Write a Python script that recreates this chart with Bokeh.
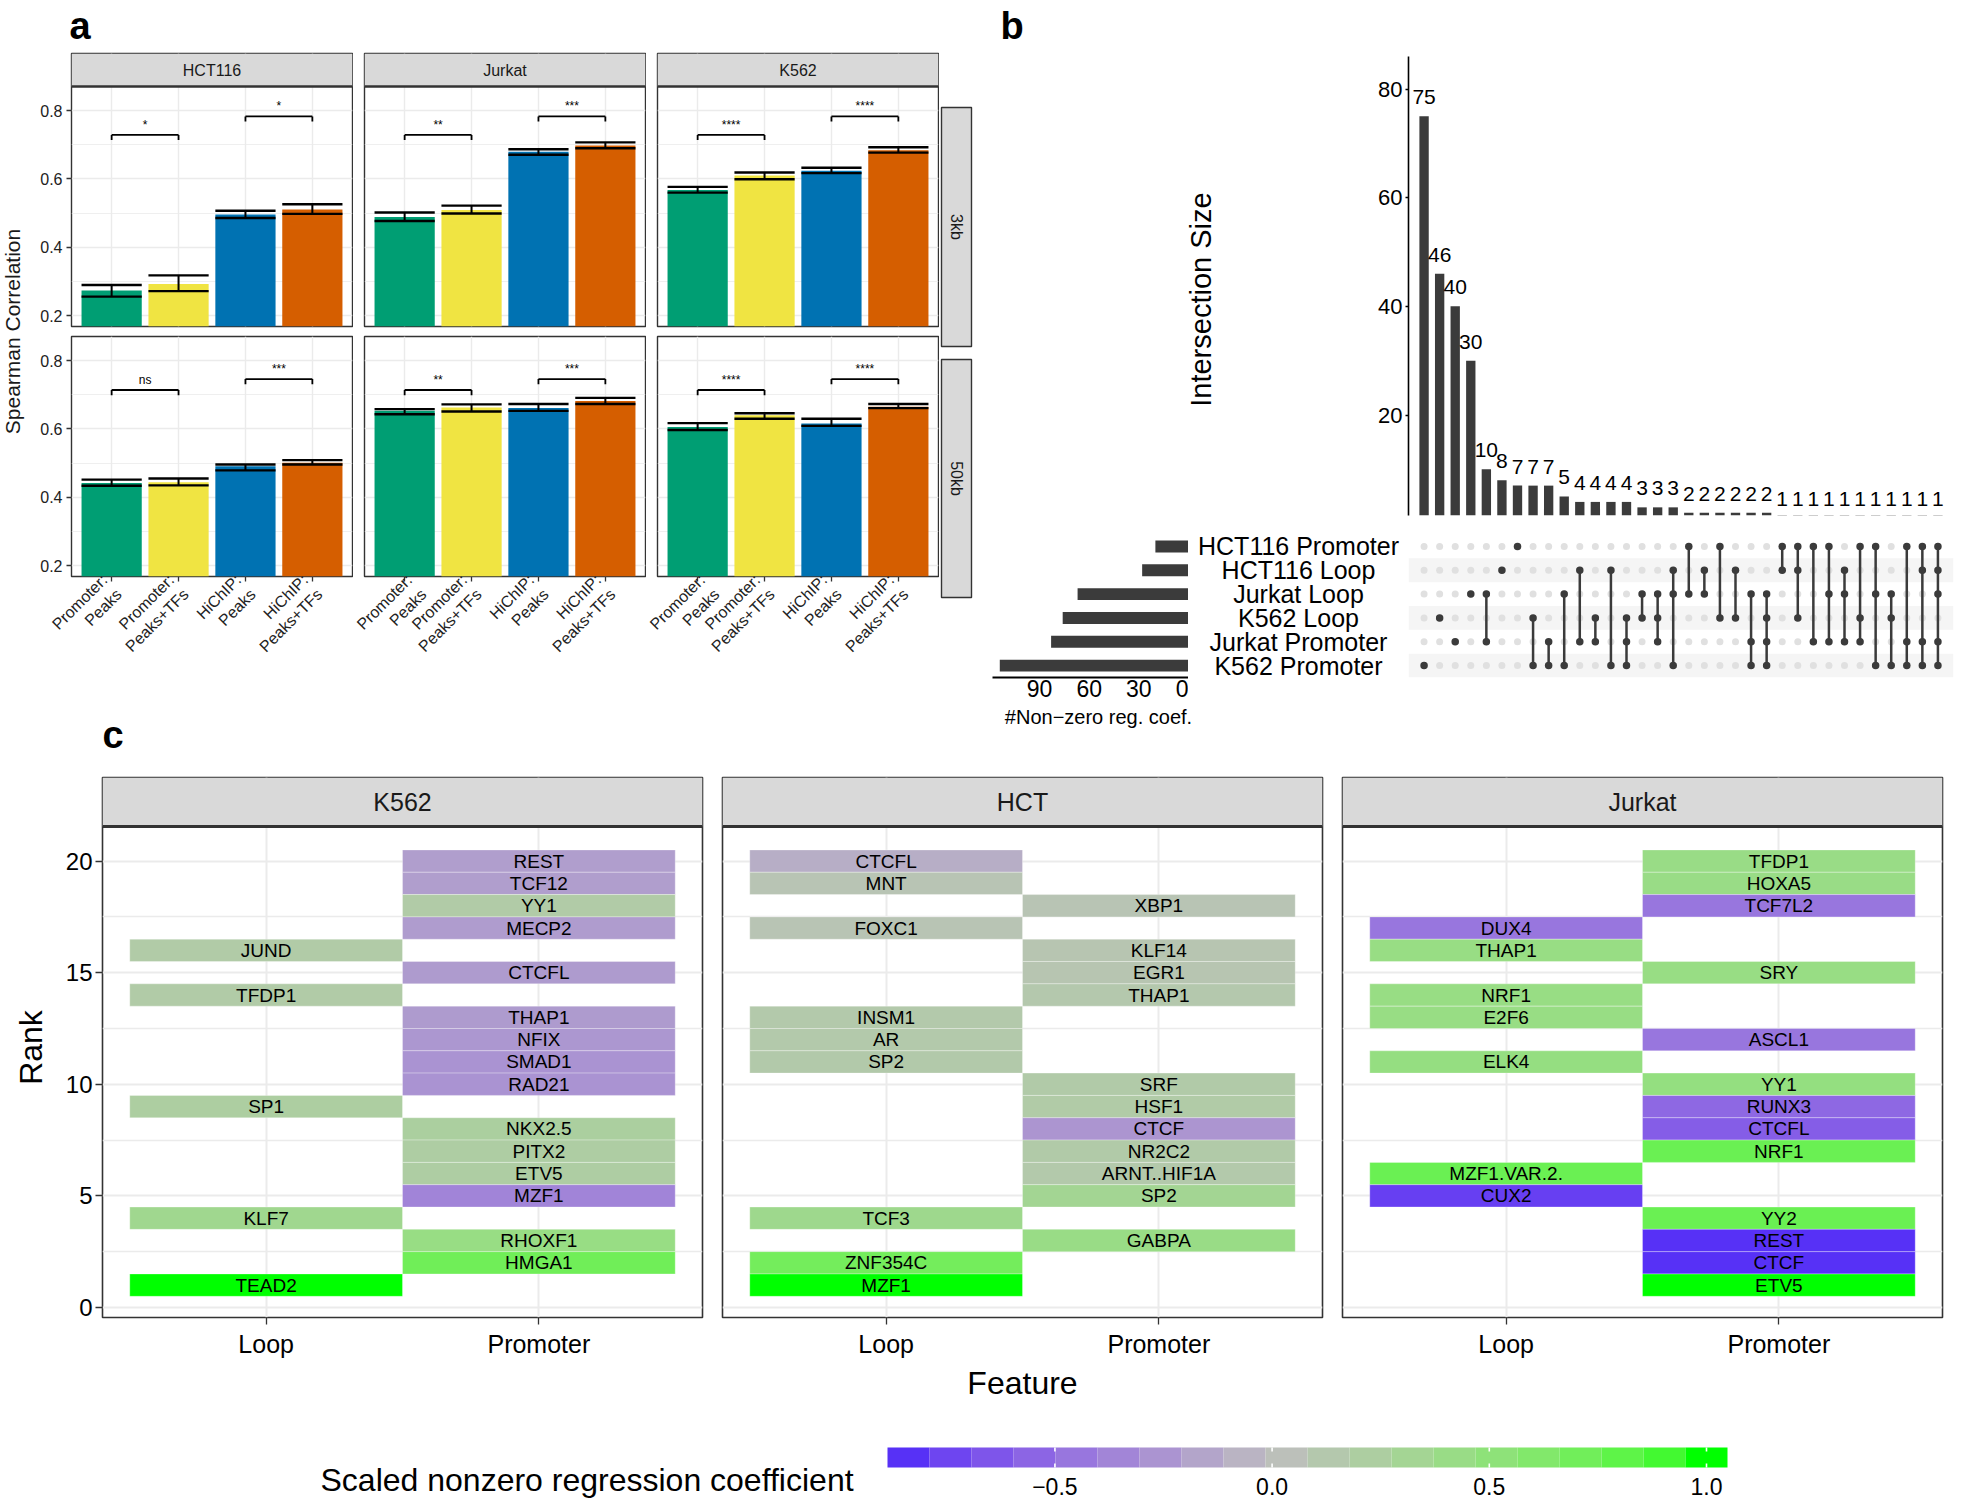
import math
from bokeh.plotting import figure
from bokeh.layouts import row, column
from bokeh.models import Range1d, FixedTicker, Label, LabelSet, ColumnDataSource, LinearColorMapper
from bokeh.core.properties import value
from bokeh.embed import file_html
from bokeh.resources import INLINE

FONT = "Liberation Sans"
DARK = "#333333"
STRIP_FILL = "#D9D9D9"
GRID = "#EBEBEB"
TXT = "#1A1A1A"

# ---------------- panel a data ----------------
cell_lines = ["HCT116", "Jurkat", "K562"]
windows = ["3kb", "50kb"]
models = ["Promoter:\nPeaks", "Promoter:\nPeaks+TFs", "HiChIP:\nPeaks", "HiChIP:\nPeaks+TFs"]
model_colors = ["#009E73", "#F0E442", "#0072B2", "#D55E00"]

hct116_3kb_mean = [0.274, 0.293, 0.496, 0.511]
hct116_3kb_lo = [0.256, 0.272, 0.486, 0.498]
hct116_3kb_hi = [0.290, 0.318, 0.507, 0.526]
jurkat_3kb_mean = [0.489, 0.509, 0.680, 0.698]
jurkat_3kb_lo = [0.477, 0.499, 0.671, 0.690]
jurkat_3kb_hi = [0.502, 0.522, 0.687, 0.707]
k562_3kb_mean = [0.568, 0.610, 0.624, 0.684]
k562_3kb_lo = [0.560, 0.599, 0.617, 0.677]
k562_3kb_hi = [0.577, 0.619, 0.633, 0.693]
hct116_50kb_mean = [0.442, 0.444, 0.491, 0.501]
hct116_50kb_lo = [0.434, 0.435, 0.479, 0.496]
hct116_50kb_hi = [0.452, 0.455, 0.496, 0.509]
jurkat_50kb_mean = [0.653, 0.663, 0.661, 0.682]
jurkat_50kb_lo = [0.643, 0.651, 0.653, 0.673]
jurkat_50kb_hi = [0.658, 0.672, 0.673, 0.691]
k562_50kb_mean = [0.606, 0.640, 0.616, 0.665]
k562_50kb_lo = [0.597, 0.630, 0.609, 0.661]
k562_50kb_hi = [0.617, 0.646, 0.630, 0.673]

sig_pairs = [(1, 2), (3, 4)]
sig_3kb_first = ["*", "**", "****"]
sig_3kb_second = ["*", "***", "****"]
sig_50kb_first = ["ns", "**", "****"]
sig_50kb_second = ["***", "***", "****"]
bracket_y_3kb = [0.729, 0.783]
bracket_y_50kb = [0.714, 0.746]
a_yticks = [0.2, 0.4, 0.6, 0.8]
a_minor = [0.3, 0.5, 0.7]

# ---------------- panel b data ----------------
set_names = ["HCT116 Promoter", "HCT116 Loop", "Jurkat Loop", "K562 Loop", "Jurkat Promoter", "K562 Promoter"]
set_sizes = [20, 28, 67, 76, 83, 114]
intersection_sizes = [75, 46, 40, 30, 10, 8, 7, 7, 7, 5, 4, 4, 4, 4, 3, 3, 3,
                      2, 2, 2, 2, 2, 2, 1, 1, 1, 1, 1, 1, 1, 1, 1, 1, 1]
intersection_members = [
    "K562 Promoter", "K562 Loop", "Jurkat Promoter", "Jurkat Loop",
    "Jurkat Loop&Jurkat Promoter", "HCT116 Loop", "HCT116 Promoter",
    "K562 Loop&K562 Promoter", "Jurkat Promoter&K562 Promoter",
    "Jurkat Loop&K562 Promoter", "HCT116 Loop&Jurkat Promoter",
    "K562 Loop&Jurkat Promoter", "HCT116 Loop&K562 Promoter",
    "K562 Loop&Jurkat Promoter&K562 Promoter", "Jurkat Loop&K562 Loop",
    "Jurkat Loop&K562 Loop&Jurkat Promoter", "HCT116 Loop&Jurkat Loop&K562 Promoter",
    "HCT116 Promoter&Jurkat Loop", "HCT116 Loop&Jurkat Loop",
    "HCT116 Promoter&K562 Loop", "HCT116 Loop&K562 Loop",
    "Jurkat Loop&Jurkat Promoter&K562 Promoter",
    "Jurkat Loop&K562 Loop&Jurkat Promoter&K562 Promoter",
    "HCT116 Promoter&HCT116 Loop", "HCT116 Promoter&HCT116 Loop&K562 Loop",
    "HCT116 Promoter&Jurkat Promoter", "HCT116 Promoter&Jurkat Loop&Jurkat Promoter",
    "HCT116 Loop&Jurkat Loop&Jurkat Promoter", "HCT116 Promoter&K562 Loop&Jurkat Promoter",
    "HCT116 Promoter&Jurkat Loop&K562 Promoter", "Jurkat Loop&K562 Loop&K562 Promoter",
    "HCT116 Promoter&Jurkat Promoter&K562 Promoter",
    "HCT116 Promoter&HCT116 Loop&Jurkat Promoter&K562 Promoter",
    "HCT116 Promoter&HCT116 Loop&Jurkat Loop&Jurkat Promoter&K562 Promoter",
]
inter_yticks = [0, 20, 40, 60, 80]
setsize_ticks = [0, 30, 60, 90]

# ---------------- panel c data ----------------
features = ["Loop", "Promoter"]
k562_rank = [20, 19, 18, 17, 16, 15, 14, 13, 12, 11, 10, 9, 8, 7, 6, 5, 4, 3, 2, 1]
k562_feature = ["Promoter", "Promoter", "Promoter", "Promoter", "Loop", "Promoter", "Loop", "Promoter",
                "Promoter", "Promoter", "Promoter", "Loop", "Promoter", "Promoter", "Promoter", "Promoter",
                "Loop", "Promoter", "Promoter", "Loop"]
k562_tf = ["REST", "TCF12", "YY1", "MECP2", "JUND", "CTCFL", "TFDP1", "THAP1", "NFIX", "SMAD1", "RAD21",
           "SP1", "NKX2.5", "PITX2", "ETV5", "MZF1", "KLF7", "RHOXF1", "HMGA1", "TEAD2"]
k562_coef = [-0.20, -0.20, 0.18, -0.21, 0.18, -0.22, 0.18, -0.22, -0.24, -0.27, -0.27,
             0.23, 0.24, 0.21, 0.21, -0.36, 0.36, 0.44, 0.72, 1.00]

hct_rank = [20, 19, 18, 17, 16, 15, 14, 13, 12, 11, 10, 9, 8, 7, 6, 5, 4, 3, 2, 1]
hct_feature = ["Loop", "Loop", "Promoter", "Loop", "Promoter", "Promoter", "Promoter", "Loop", "Loop", "Loop",
               "Promoter", "Promoter", "Promoter", "Promoter", "Promoter", "Promoter", "Loop", "Promoter",
               "Loop", "Loop"]
hct_tf = ["CTCFL", "MNT", "XBP1", "FOXC1", "KLF14", "EGR1", "THAP1", "INSM1", "AR", "SP2", "SRF", "HSF1",
          "CTCF", "NR2C2", "ARNT..HIF1A", "SP2", "TCF3", "GABPA", "ZNF354C", "MZF1"]
hct_coef = [-0.10, 0.08, 0.08, 0.08, 0.10, 0.10, 0.13, 0.15, 0.15, 0.16, 0.17, 0.18,
            -0.25, 0.17, 0.15, 0.33, 0.38, 0.42, 0.70, 1.00]

jurkat_rank = [20, 19, 18, 17, 16, 15, 14, 13, 12, 11, 10, 9, 8, 7, 6, 5, 4, 3, 2, 1]
jurkat_feature = ["Promoter", "Promoter", "Promoter", "Loop", "Loop", "Promoter", "Loop", "Loop", "Promoter",
                  "Loop", "Promoter", "Promoter", "Promoter", "Promoter", "Loop", "Loop", "Promoter",
                  "Promoter", "Promoter", "Promoter"]
jurkat_tf = ["TFDP1", "HOXA5", "TCF7L2", "DUX4", "THAP1", "SRY", "NRF1", "E2F6", "ASCL1", "ELK4", "YY1",
             "RUNX3", "CTCFL", "NRF1", "MZF1.VAR.2.", "CUX2", "YY2", "REST", "CTCF", "ETV5"]
jurkat_coef = [0.42, 0.42, -0.45, -0.45, 0.44, 0.44, 0.44, 0.44, -0.45, 0.46, 0.47,
               -0.53, -0.60, 0.75, 0.75, -0.77, 0.75, -0.837, -0.837, 1.00]

c_panels = ["K562", "HCT", "Jurkat"]
rank_ticks = [0, 5, 10, 15, 20]
rank_minor = [2.5, 7.5, 12.5, 17.5]
legend_ticks = [-0.5, 0.0, 0.5, 1.0]
legend_tick_labels = ["\u22120.5", "0.0", "0.5", "1.0"]
legend_nbin = 20


# ---------------- helpers ----------------
GEOM = {}


def key(v):
    return int(v) if float(v).is_integer() else v


def make_fig(canvas, frame, xr, yr):
    cx0, cy0, cx1, cy1 = canvas
    fx0, fy0, fx1, fy1 = frame
    xrng = xr if isinstance(xr, Range1d) else Range1d(*xr)
    yrng = yr if isinstance(yr, Range1d) else Range1d(*yr)
    p = figure(width=cx1 - cx0, height=cy1 - cy0, x_range=xrng, y_range=yrng,
               output_backend="svg", toolbar_location=None,
               min_border_left=fx0 - cx0, min_border_right=cx1 - fx1,
               min_border_top=fy0 - cy0, min_border_bottom=cy1 - fy1)
    p.background_fill_color = "white"
    p.border_fill_color = "white"
    p.outline_line_color = None
    p.xgrid.visible = False
    p.ygrid.visible = False
    p.xaxis.visible = False
    p.yaxis.visible = False
    GEOM[id(p)] = (frame, (xrng.start, xrng.end), (yrng.start, yrng.end))
    return p


def text_fig(canvas):
    # a plain drawing area whose data coordinates are page pixels (y downward)
    cx0, cy0, cx1, cy1 = canvas
    return make_fig(canvas, canvas, (cx0, cx1), (cy1, cy0))


def px2x(p, px):
    frame, xr, _ = GEOM[id(p)]
    return xr[0] + (px - frame[0]) / (frame[2] - frame[0]) * (xr[1] - xr[0])


def px2y(p, py):
    frame, _, yr = GEOM[id(p)]
    return yr[0] + (frame[3] - py) / (frame[3] - frame[1]) * (yr[1] - yr[0])


def add_label(p, px, py, text, size, bold=False, angle=0.0, align="center", baseline="middle", color="black"):
    p.add_layout(Label(x=px2x(p, px), y=px2y(p, py), text=text, text_font=FONT,
                       text_font_size=f"{size}px", text_font_style="bold" if bold else "normal",
                       angle=angle, text_align=align, text_baseline=baseline, text_color=color))


def style_axis(ax, size, color="black", tick_out=4, standoff=4):
    ax.visible = True
    ax.axis_line_color = None
    ax.major_tick_line_color = DARK
    ax.major_tick_line_width = 1.3
    ax.major_tick_out = tick_out
    ax.major_tick_in = 0
    ax.minor_tick_line_color = None
    ax.major_label_text_font = FONT
    ax.major_label_text_font_size = f"{size}px"
    ax.major_label_text_color = color
    ax.major_label_standoff = standoff


# ---------------- palette (Lab interpolation low-mid-high) ----------------
WHITE = (0.95047, 1.0, 1.08883)


def _lin(c):
    c = c / 255.0
    return c / 12.92 if c <= 0.04045 else ((c + 0.055) / 1.055) ** 2.4


def _gam(c):
    c = min(max(c, 0.0), 1.0)
    v = 12.92 * c if c <= 0.0031308 else 1.055 * c ** (1 / 2.4) - 0.055
    return int(round(min(max(v, 0.0), 1.0) * 255))


def hex_to_lab(h):
    r, g, b = [_lin(int(h[i:i + 2], 16)) for i in (1, 3, 5)]
    X = 0.4124564 * r + 0.3575761 * g + 0.1804375 * b
    Y = 0.2126729 * r + 0.7151522 * g + 0.0721750 * b
    Z = 0.0193339 * r + 0.1191920 * g + 0.9503041 * b

    def f(t):
        return t ** (1 / 3) if t > 216 / 24389 else (24389 / 27 * t + 16) / 116
    fx, fy, fz = f(X / WHITE[0]), f(Y / WHITE[1]), f(Z / WHITE[2])
    return (116 * fy - 16, 500 * (fx - fy), 200 * (fy - fz))


def lab_to_hex(L, a, b):
    fy = (L + 16) / 116
    fx = fy + a / 500
    fz = fy - b / 200

    def finv(t):
        return t ** 3 if t ** 3 > 216 / 24389 else (116 * t - 16) / (24389 / 27)
    X, Y, Z = finv(fx) * WHITE[0], finv(fy) * WHITE[1], finv(fz) * WHITE[2]
    r = 3.2404542 * X - 1.5371385 * Y - 0.4985314 * Z
    g = -0.9692660 * X + 1.8760108 * Y + 0.0415560 * Z
    bb = 0.0556434 * X - 0.2040259 * Y + 1.0572252 * Z
    return "#%02X%02X%02X" % (_gam(r), _gam(g), _gam(bb))


LOW, MID, HIGH = "#0000FF", "#BEBEBE", "#00FF00"
_labs = [hex_to_lab(c) for c in (LOW, MID, HIGH)]
palette = []
_N = 255
for i in range(_N):
    t = -1 + 2 * i / (_N - 1)
    A, B, fr = (_labs[1], _labs[0], -t) if t < 0 else (_labs[1], _labs[2], t)
    palette.append(lab_to_hex(*[A[k] + (B[k] - A[k]) * fr for k in range(3)]))
mapper = LinearColorMapper(palette=palette, low=-1, high=1)

TOP_END = 708

# =====================================================================
# header with panel letters a / b
# =====================================================================
header1 = text_fig((0, 0, 1961, 51))
add_label(header1, 69, 25, "a", 38, bold=True, align="left")
add_label(header1, 1000, 25, "b", 38, bold=True, align="left")

# =====================================================================
# PANEL A
# =====================================================================
a_values = {
    ("HCT116", "3kb"): (hct116_3kb_mean, hct116_3kb_lo, hct116_3kb_hi),
    ("Jurkat", "3kb"): (jurkat_3kb_mean, jurkat_3kb_lo, jurkat_3kb_hi),
    ("K562", "3kb"): (k562_3kb_mean, k562_3kb_lo, k562_3kb_hi),
    ("HCT116", "50kb"): (hct116_50kb_mean, hct116_50kb_lo, hct116_50kb_hi),
    ("Jurkat", "50kb"): (jurkat_50kb_mean, jurkat_50kb_lo, jurkat_50kb_hi),
    ("K562", "50kb"): (k562_50kb_mean, k562_50kb_lo, k562_50kb_hi),
}
a_sig = {"3kb": (sig_3kb_first, sig_3kb_second), "50kb": (sig_50kb_first, sig_50kb_second)}
a_bracket = {"3kb": bracket_y_3kb, "50kb": bracket_y_50kb}

A_Y0, A_Y1 = 0.1685, 0.8705
A_XR = (0.4, 4.6)
A_STRIP = (A_Y1 - A_Y0) / 240 * 33
col_canvas_x = [(36, 353), (353, 646), (646, 939)]
col_frame_x = [(71, 352), (364, 645), (657, 938)]
row_canvas_y = [(51, 331), (331, TOP_END)]
row_frame_y = [(53, 326), (336, 576)]

a_rows = []
for ri, win in enumerate(windows):
    figs = []
    for ci, cell in enumerate(cell_lines):
        yr = (A_Y0, A_Y1 + A_STRIP) if ri == 0 else (A_Y0, A_Y1)
        canvas = (col_canvas_x[ci][0], row_canvas_y[ri][0], col_canvas_x[ci][1], row_canvas_y[ri][1])
        frame = (col_frame_x[ci][0], row_frame_y[ri][0], col_frame_x[ci][1], row_frame_y[ri][1])
        p = make_fig(canvas, frame, A_XR, yr)
        p.xgrid.visible = True
        p.ygrid.visible = True
        p.xgrid.ticker = FixedTicker(ticks=[1, 2, 3, 4])
        p.ygrid.ticker = FixedTicker(ticks=a_yticks, minor_ticks=a_minor)
        p.xgrid.grid_line_color = GRID
        p.xgrid.grid_line_width = 1.4
        p.ygrid.grid_line_color = GRID
        p.ygrid.grid_line_width = 1.4
        p.ygrid.minor_grid_line_color = GRID
        p.ygrid.minor_grid_line_width = 0.8
        p.outline_line_color = DARK
        p.outline_line_width = 1.4

        mean, lo, hi = a_values[(cell, win)]
        xs = list(range(1, len(models) + 1))
        src = ColumnDataSource(dict(x=xs, mean=mean, lo=lo, hi=hi, color=model_colors,
                                    left=[x - 0.45 for x in xs], right=[x + 0.45 for x in xs]))
        p.vbar(x="x", top="mean", bottom=A_Y0 - 0.1, width=0.9, fill_color="color", line_color=None, source=src)
        p.segment(x0="x", y0="lo", x1="x", y1="hi", line_color="black", line_width=2, source=src)
        p.segment(x0="left", y0="lo", x1="right", y1="lo", line_color="black", line_width=2.4, source=src)
        p.segment(x0="left", y0="hi", x1="right", y1="hi", line_color="black", line_width=2.4, source=src)

        sigs = a_sig[win]
        for k, (pa, pb) in enumerate(sig_pairs):
            by = a_bracket[win][k]
            tip = 0.015
            p.segment(x0=[pa, pa, pb], y0=[by, by, by], x1=[pb, pa, pb], y1=[by, by - tip, by - tip],
                      line_color="black", line_width=1.8)
            p.text(x=[(pa + pb) / 2], y=[by], text=[sigs[k][ci]], text_align="center",
                   text_baseline="bottom", y_offset=-3, text_font=value(FONT),
                   text_font_size="12px", text_color="black")

        if ri == 0:
            p.quad(left=[A_XR[0]], right=[A_XR[1]], bottom=[A_Y1], top=[A_Y1 + A_STRIP],
                   fill_color=STRIP_FILL, line_color=None)
            p.segment(x0=[A_XR[0]], y0=[A_Y1], x1=[A_XR[1]], y1=[A_Y1], line_color=DARK, line_width=2.4)
            p.text(x=[sum(A_XR) / 2], y=[A_Y1 + A_STRIP / 2], text=[cell], text_align="center",
                   text_baseline="middle", text_font=value(FONT), text_font_size="16px", text_color=TXT)
        if ci == 0:
            style_axis(p.yaxis[0], 16, color="#222222", tick_out=5, standoff=4)
            p.yaxis.ticker = FixedTicker(ticks=a_yticks)
            p.yaxis.major_label_overrides = {key(v): f"{v:.1f}" for v in a_yticks}
        if ri == 1:
            style_axis(p.xaxis[0], 16, color="#222222", tick_out=5, standoff=3)
            p.xaxis.ticker = FixedTicker(ticks=xs)
            p.xaxis.major_label_overrides = {x: m for x, m in zip(xs, models)}
            p.xaxis.major_label_orientation = math.pi / 4
        figs.append(p)
    a_rows.append(figs)

ylab_fig = text_fig((0, 51, 36, TOP_END))
add_label(ylab_fig, 12, 331, "Spearman Correlation", 21, angle=math.pi / 2, color=TXT)

rstrip_fig = text_fig((939, 51, 990, TOP_END))
rstrip_fig.quad(left=[941, 941], right=[971, 971], top=[107, 359], bottom=[346, 597],
                fill_color=STRIP_FILL, line_color=DARK, line_width=1.4)
rstrip_fig.text(x=[956, 956], y=[226.5, 478], text=windows, angle=-math.pi / 2, text_align="center",
                text_baseline="middle", text_font=value(FONT), text_font_size="16px", text_color=TXT)

a_block = column(row(*a_rows[0]), row(*a_rows[1]))

# =====================================================================
# PANEL B (UpSet)
# =====================================================================
n_int = len(intersection_sizes)
ux = Range1d(0, n_int + 1)
uy = Range1d(0.5, len(set_names) + 0.5)
set_pos = {name: len(set_names) - i for i, name in enumerate(set_names)}

inter_left = text_fig((990, 51, 1370, 525))
add_label(inter_left, 1200, 302, "Intersection Size", 29, angle=math.pi / 2, color="black")

inter_fig = make_fig((1370, 51, 1961, 525), (1408, 56, 1953, 515), ux, (1.5, 86))
cols = list(range(1, n_int + 1))
isrc = ColumnDataSource(dict(x=cols, top=intersection_sizes, label=[str(v) for v in intersection_sizes]))
inter_fig.vbar(x="x", top="top", bottom=0, width=0.6, fill_color="#3B3B3B", line_color=None, source=isrc)
inter_fig.add_layout(LabelSet(x="x", y="top", text="label", source=isrc, text_align="center",
                              text_baseline="alphabetic", y_offset=12, text_font=value(FONT),
                              text_font_size="21px", text_color="black"))
ya = inter_fig.yaxis[0]
style_axis(ya, 22, tick_out=3, standoff=3)
ya.axis_line_color = "black"
ya.axis_line_width = 1.6
ya.major_tick_line_color = "black"
ya.ticker = FixedTicker(ticks=inter_yticks)

M_FY0, M_FY1 = 534, 677
setsize_fig = make_fig((990, 525, 1188, TOP_END), (992, M_FY0, 1188, M_FY1), (118.4, 0), uy)
setsize_fig.hbar(y=[set_pos[n] for n in set_names], right=set_sizes, left=0, height=0.5,
                 fill_color="#3B3B3B", line_color=None)
sa = setsize_fig.xaxis[0]
style_axis(sa, 23, tick_out=0, standoff=2)
sa.axis_line_color = "black"
sa.axis_line_width = 2
sa.major_tick_line_color = None
sa.ticker = FixedTicker(ticks=setsize_ticks)

names_fig = make_fig((1188, 525, 1408, TOP_END), (1188, M_FY0, 1408, M_FY1), (0, 1), uy)
names_fig.text(x=[0.5] * len(set_names), y=[set_pos[n] for n in set_names], text=set_names,
               text_align="center", text_baseline="middle", text_font=value(FONT),
               text_font_size="25px", text_color="black")

matrix_fig = make_fig((1408, 525, 1961, TOP_END), (1408, M_FY0, 1953, M_FY1), ux, uy)
band_rows = [set_pos[n] for n in set_names if set_pos[n] % 2 == 1]
matrix_fig.hbar(y=band_rows, left=0, right=n_int + 1, height=1, fill_color="#F5F5F5", line_color=None)
gx, gy = [], []
for c in cols:
    for n in set_names:
        gx.append(c)
        gy.append(set_pos[n])
matrix_fig.scatter(x=gx, y=gy, size=7, fill_color="#E0E0E0", line_color=None)
ax_, ay_, sx0, sy0, sy1 = [], [], [], [], []
for c, members in zip(cols, intersection_members):
    ys = [set_pos[m] for m in members.split("&")]
    for yv in ys:
        ax_.append(c)
        ay_.append(yv)
    if len(ys) > 1:
        sx0.append(c)
        sy0.append(min(ys))
        sy1.append(max(ys))
matrix_fig.segment(x0=sx0, y0=sy0, x1=sx0, y1=sy1, line_color="#3B3B3B", line_width=2.5)
matrix_fig.scatter(x=ax_, y=ay_, size=7.5, fill_color="#3B3B3B", line_color=None)

b_block = column(row(inter_left, inter_fig), row(setsize_fig, names_fig, matrix_fig))

top = row(ylab_fig, a_block, rstrip_fig, b_block)

# header between top panels and panel c
header2 = text_fig((0, TOP_END, 1961, 775))
add_label(header2, 102, 734, "c", 38, bold=True, align="left")
add_label(header2, 1098, 716, "#Non\u2212zero reg. coef.", 20, color="black")

# =====================================================================
# PANEL C
# =====================================================================
c_data = {
    "K562": (k562_rank, k562_feature, k562_tf, k562_coef),
    "HCT": (hct_rank, hct_feature, hct_tf, hct_coef),
    "Jurkat": (jurkat_rank, jurkat_feature, jurkat_tf, jurkat_coef),
}
feat_pos = {f: i + 1 for i, f in enumerate(features)}
C_Y0, C_Y1 = -0.45, 21.55
C_STRIP = (C_Y1 - C_Y0) / 491 * 49
C_XR = (0.4, 2.6)
c_canvas_x = [(0, 712), (712, 1332), (1332, 1961)]
c_frame_x = [(102, 702), (722, 1322), (1342, 1942)]
c_figs = []
for ci, name in enumerate(c_panels):
    canvas = (c_canvas_x[ci][0], 775, c_canvas_x[ci][1], 1403)
    frame = (c_frame_x[ci][0], 777, c_frame_x[ci][1], 1317)
    p = make_fig(canvas, frame, C_XR, (C_Y0, C_Y1 + C_STRIP))
    p.xgrid.visible = True
    p.ygrid.visible = True
    p.xgrid.ticker = FixedTicker(ticks=[1, 2])
    p.ygrid.ticker = FixedTicker(ticks=rank_ticks, minor_ticks=rank_minor)
    p.xgrid.grid_line_color = GRID
    p.xgrid.grid_line_width = 2
    p.ygrid.grid_line_color = GRID
    p.ygrid.grid_line_width = 2.2
    p.ygrid.minor_grid_line_color = GRID
    p.ygrid.minor_grid_line_width = 1.4
    p.outline_line_color = DARK
    p.outline_line_width = 1.6

    rk, ft, tf, cf = c_data[name]
    src = ColumnDataSource(dict(x=[feat_pos[f] for f in ft], y=rk, tf=tf, coef=cf))
    p.rect(x="x", y="y", width=1, height=1, fill_color={"field": "coef", "transform": mapper},
           line_color="white", line_alpha=0.3, line_width=1, source=src)
    p.text(x="x", y="y", text="tf", text_align="center", text_baseline="middle",
           text_font=value(FONT), text_font_size="19px", text_color="black", source=src)

    p.quad(left=[C_XR[0]], right=[C_XR[1]], bottom=[C_Y1], top=[C_Y1 + C_STRIP],
           fill_color=STRIP_FILL, line_color=None)
    p.segment(x0=[C_XR[0]], y0=[C_Y1], x1=[C_XR[1]], y1=[C_Y1], line_color=DARK, line_width=3)
    p.text(x=[sum(C_XR) / 2], y=[C_Y1 + C_STRIP / 2], text=[name], text_align="center",
           text_baseline="middle", text_font=value(FONT), text_font_size="25px", text_color=TXT)

    xa = p.xaxis[0]
    style_axis(xa, 25, color="black", tick_out=7, standoff=5)
    xa.ticker = FixedTicker(ticks=[feat_pos[f] for f in features])
    xa.major_label_overrides = {feat_pos[f]: f for f in features}
    if ci == 0:
        yax = p.yaxis[0]
        style_axis(yax, 24, color="black", tick_out=7, standoff=3)
        yax.ticker = FixedTicker(ticks=rank_ticks)
        yax.axis_label = "Rank"
        yax.axis_label_text_font = FONT
        yax.axis_label_text_font_size = "32px"
        yax.axis_label_text_font_style = "normal"
        yax.axis_label_text_color = "black"
        yax.axis_label_standoff = 14
    if ci == 1:
        xa.axis_label = "Feature"
        xa.axis_label_text_font = FONT
        xa.axis_label_text_font_size = "32px"
        xa.axis_label_text_font_style = "normal"
        xa.axis_label_text_color = "black"
        xa.axis_label_standoff = 4
    c_figs.append(p)

# legend: binned colour bar drawn through a value scale spanning the legend row
all_coef = k562_coef + hct_coef + jurkat_coef
vmin, vmax = min(all_coef), max(all_coef)
bw = (vmax - vmin) / (legend_nbin - 1)
lo_edge, hi_edge = vmin - bw / 2, vmax + bw / 2
BAR_X0, BAR_X1, BAR_Y0, BAR_Y1 = 887, 1727, 1447, 1467
upp = (hi_edge - lo_edge) / (BAR_X1 - BAR_X0)  # value units per pixel
leg_xr = (lo_edge - BAR_X0 * upp, hi_edge + (1961 - BAR_X1) * upp)
legend_fig = make_fig((0, 1403, 1961, 1503), (0, 1403, 1961, 1503), leg_xr, (1503, 1403))
centers = [vmin + i * bw for i in range(legend_nbin)]
legend_fig.rect(x=centers, y=[(BAR_Y0 + BAR_Y1) / 2] * legend_nbin, width=bw, height=BAR_Y1 - BAR_Y0,
                fill_color={"field": "x", "transform": mapper}, line_color=None)
legend_fig.segment(x0=legend_ticks * 2, y0=[BAR_Y1] * 4 + [BAR_Y0] * 4,
                   x1=legend_ticks * 2, y1=[BAR_Y1 - 4] * 4 + [BAR_Y0 + 4] * 4,
                   line_color="white", line_width=1.6)
legend_fig.text(x=legend_ticks, y=[1486] * 4, text=legend_tick_labels, text_align="center",
                text_baseline="middle", text_font=value(FONT), text_font_size="23px", text_color="black")
add_label(legend_fig, 320, 1479, "Scaled nonzero regression coefficient", 32, align="left")

panel_c = column(row(*c_figs), row(legend_fig))

root = column(header1, top, header2, panel_c)
open("out.html", "w").write(file_html(root, INLINE))
